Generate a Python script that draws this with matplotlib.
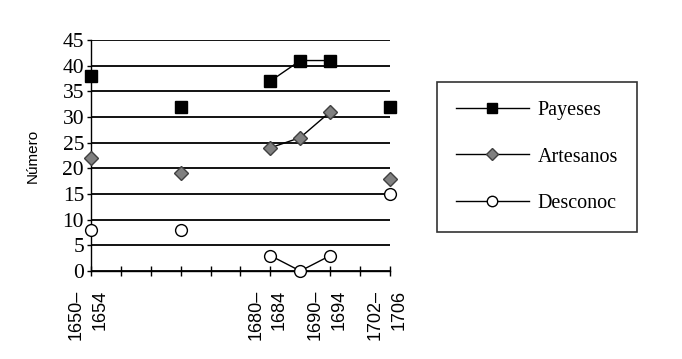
import numpy as np
import matplotlib.pyplot as plt
from matplotlib.lines import Line2D

# category positions (11 slots on the axis, only some have data)
xpos = [0, 3, 6, 7, 8, 10]
tick_pos = [0, 6, 8, 10]
tick_labels = ["1650\u2013\n1654", "1680\u2013\n1684", "1690\u2013\n1694", "1702\u2013\n1706"]

payeses = [38, 32, 37, 41, 41, 32]
artesanos = [22, 19, 24, 26, 31, 18]
desconoc = [8, 8, 3, 0, 3, 15]


def on_axis(xs, ys):
    # put NaN where slots are missing so lines only join neighbours
    full = np.full(11, np.nan)
    for x, y in zip(xs, ys):
        full[x] = y
    return full


fig = plt.figure(figsize=(6.82, 3.59), dpi=100)
ax = fig.add_axes([91 / 682, 88 / 359, 299 / 682, 231 / 359])

slots = np.arange(11)
ax.plot(slots, on_axis(xpos, payeses), color="black", lw=1, marker="s", ms=8.5,
        mfc="black", mec="black", clip_on=False, zorder=5)
ax.plot(slots, on_axis(xpos, artesanos), color="black", lw=1, marker="D", ms=7.5,
        mfc="#808080", mec="#404040", clip_on=False, zorder=5)
ax.plot(slots, on_axis(xpos, desconoc), color="black", lw=1, marker="o", ms=8.5,
        mfc="white", mec="black", mew=1, clip_on=False, zorder=5)

ax.set_xlim(0, 10)
ax.set_ylim(0, 45)
ax.set_yticks(range(0, 46, 5))
ax.yaxis.grid(True, color="black", lw=1.3)
ax.set_axisbelow(True)
for s in ["top", "right"]:
    ax.spines[s].set_visible(False)
ax.spines["left"].set_linewidth(1)
ax.spines["bottom"].set_linewidth(1)

ax.set_xticks(range(11))
ax.set_xticklabels([])
ax.tick_params(axis="x", direction="inout", length=7, width=1)
ax.tick_params(axis="y", direction="out", length=3, width=1, pad=2)
for lab in ax.get_yticklabels():
    lab.set_fontfamily("Liberation Serif")
    lab.set_fontsize(15.5)

for p, t in zip(tick_pos, tick_labels):
    ax.text(p - 0.1, -0.08, t, transform=ax.get_xaxis_transform(), rotation=90,
            ha="center", va="top", multialignment="right", linespacing=1.5,
            fontsize=13, family="Liberation Sans")

ax.set_ylabel("Número", fontsize=11, family="Liberation Sans", labelpad=16)

handles = [
    Line2D([], [], color="black", lw=1, marker="s", ms=7.5, mfc="black", mec="black"),
    Line2D([], [], color="black", lw=1, marker="D", ms=6.5, mfc="#808080", mec="#404040"),
    Line2D([], [], color="black", lw=1, marker="o", ms=7.5, mfc="white", mec="black"),
]
leg = fig.legend(handles, ["Payeses", "Artesanos", "Desconoc"],
                 loc="upper left", bbox_to_anchor=(437 / 682, 1 - 82 / 359),
                 frameon=True, fancybox=False, edgecolor="black",
                 prop={"family": "Liberation Serif", "size": 14.5},
                 handlelength=3.6, handletextpad=0.45, labelspacing=1.35,
                 borderpad=0.95, borderaxespad=0)
leg.get_frame().set_linewidth(1.2)

fig.savefig("out.png", dpi=100)
